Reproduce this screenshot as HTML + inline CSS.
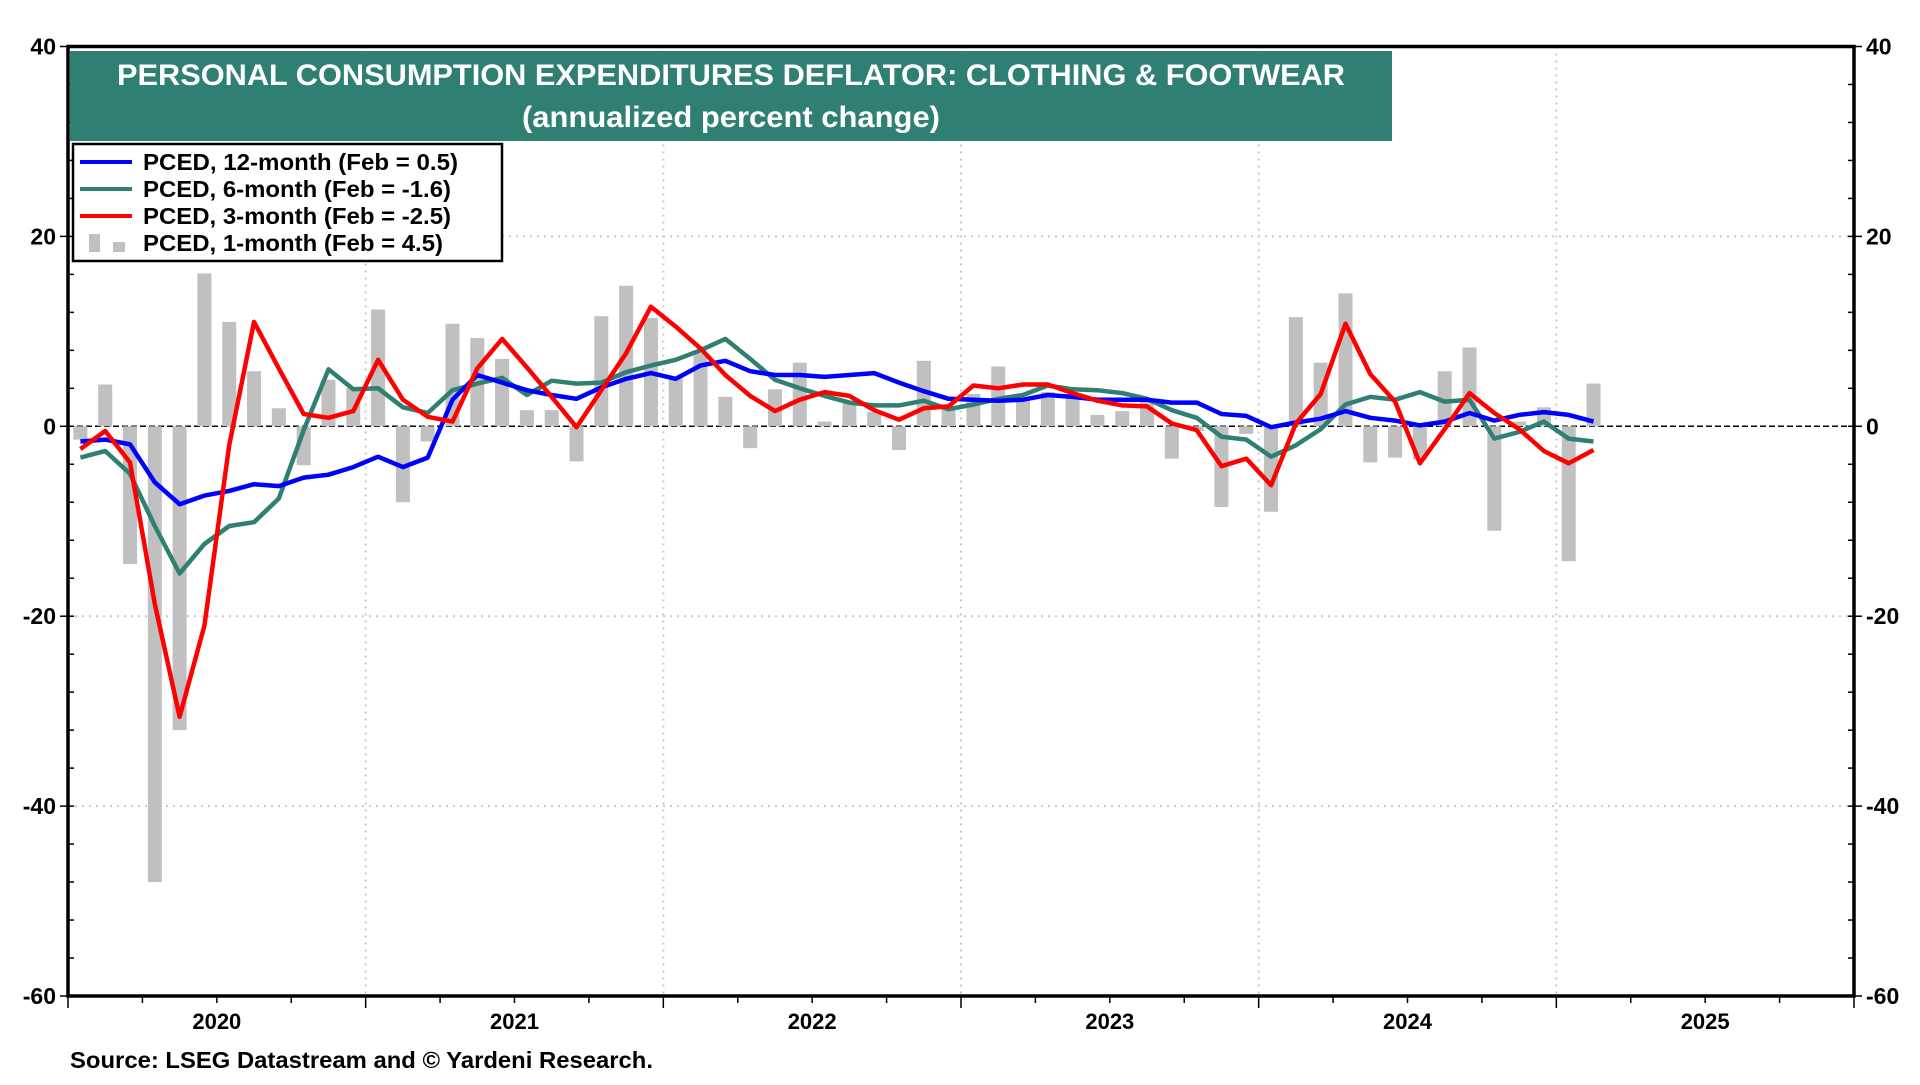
<!DOCTYPE html>
<html><head><meta charset="utf-8"><style>
body{margin:0;background:#fff;}
svg text{font-family:"Liberation Sans",Arial,sans-serif;font-weight:bold;}
</style></head><body>
<svg id="chart" width="1920" height="1080" viewBox="0 0 1920 1080" xmlns="http://www.w3.org/2000/svg">
<g id="grid"></g>
<g id="bars"></g>
<g id="lines"></g>
<g id="axes"></g>
<rect x="70" y="51" width="1322" height="90" fill="#2f7f72"/>
<text x="731" y="85" fill="#fff" font-size="30" text-anchor="middle" textLength="1228" lengthAdjust="spacingAndGlyphs">PERSONAL CONSUMPTION EXPENDITURES DEFLATOR: CLOTHING &amp; FOOTWEAR</text>
<text x="731" y="127" fill="#fff" font-size="30" text-anchor="middle" textLength="418" lengthAdjust="spacingAndGlyphs">(annualized percent change)</text>
<g>
<rect x="73" y="144" width="429" height="117" fill="#fff" stroke="#000" stroke-width="2.5"/>
<line x1="80" y1="162" x2="132" y2="162" stroke="#0000ff" stroke-width="4"/>
<text x="143" y="170" font-size="23" textLength="315" lengthAdjust="spacingAndGlyphs">PCED, 12-month (Feb = 0.5)</text>
<line x1="80" y1="189" x2="132" y2="189" stroke="#2f7f72" stroke-width="4"/>
<text x="143" y="197" font-size="23" textLength="308" lengthAdjust="spacingAndGlyphs">PCED, 6-month (Feb = -1.6)</text>
<line x1="80" y1="216" x2="132" y2="216" stroke="#ff0000" stroke-width="4"/>
<text x="143" y="224" font-size="23" textLength="308" lengthAdjust="spacingAndGlyphs">PCED, 3-month (Feb = -2.5)</text>
<rect x="89" y="234" width="11" height="18" fill="#c0c0c0"/><rect x="113" y="242" width="12" height="10" fill="#c0c0c0"/>
<text x="143" y="251" font-size="23" textLength="300" lengthAdjust="spacingAndGlyphs">PCED, 1-month (Feb = 4.5)</text>
</g>
<text x="70" y="1068" font-size="23" textLength="583" lengthAdjust="spacingAndGlyphs">Source: LSEG Datastream and © Yardeni Research.</text>
</svg>
<script>
const years = ["2020","2021","2022","2023","2024","2025"];
const yTicks = [40,20,0,-20,-40,-60];
const oneMonth = [-1.4,4.4,-14.5,-48,-32,16.1,11.0,5.8,1.9,-4.1,4.9,4.0,12.3,-8.0,-1.6,10.8,9.3,7.1,1.7,1.7,-3.7,11.6,14.8,11.4,5.2,7.7,3.1,-2.3,3.9,6.7,0.5,2.5,1.5,-2.5,6.9,2.0,3.4,6.3,2.8,3.6,3.1,1.2,1.6,2.8,-3.4,-0.5,-8.5,-0.8,-9.0,11.5,6.7,14.0,-3.8,-3.3,-3.5,5.8,8.3,-11.0,0.5,2.0,-14.2,4.5];
const twelveMonth = [-1.6,-1.4,-1.9,-5.9,-8.2,-7.3,-6.8,-6.1,-6.3,-5.4,-5.1,-4.3,-3.2,-4.3,-3.3,2.8,5.4,4.6,3.8,3.3,2.9,4.1,5.0,5.6,5.0,6.4,6.9,5.8,5.4,5.4,5.2,5.4,5.6,4.6,3.7,2.9,2.8,2.7,2.8,3.3,3.1,2.8,2.8,2.8,2.5,2.5,1.3,1.1,-0.1,0.4,0.8,1.6,0.9,0.6,0.1,0.5,1.4,0.6,1.2,1.5,1.2,0.5];
const sixMonth = [-3.3,-2.6,-5.0,-10.5,-15.5,-12.4,-10.5,-10.1,-7.6,-0.4,6.0,3.9,4.0,2.0,1.4,3.8,4.5,5.1,3.3,4.8,4.5,4.6,5.7,6.4,7.0,8.0,9.2,7.1,4.9,4.0,3.2,2.5,2.2,2.2,2.7,1.8,2.3,2.9,3.3,4.3,3.9,3.8,3.5,2.9,1.7,0.9,-1.1,-1.4,-3.2,-2.0,-0.3,2.3,3.1,2.8,3.6,2.6,2.8,-1.3,-0.6,0.5,-1.3,-1.6];
const threeMonth = [-2.4,-0.5,-3.8,-18.7,-30.6,-21,-2.0,11.0,6.1,1.3,0.9,1.6,7.0,2.8,1.0,0.5,6.1,9.2,6.2,3.1,-0.1,3.8,7.7,12.6,10.5,8.2,5.4,3.2,1.6,2.8,3.6,3.2,1.7,0.7,1.9,2.1,4.3,4.0,4.4,4.4,3.5,2.7,2.2,2.1,0.3,-0.4,-4.2,-3.4,-6.2,0.3,3.4,10.8,5.5,2.6,-3.9,-0.3,3.5,1.4,-0.3,-2.6,-3.9,-2.5];

const NS="http://www.w3.org/2000/svg";
const L=68,R=1854,T=46.5,B=996,monthW=(R-L)/72;
const yv=v=>T+(40-v)*(B-T)/100;
const xm=i=>L+monthW*(i+0.5);
function mk(tag,attrs,parent){const e=document.createElementNS(NS,tag);for(const k in attrs)e.setAttribute(k,attrs[k]);parent.appendChild(e);return e;}
const grid=document.getElementById('grid'),bars=document.getElementById('bars'),lines=document.getElementById('lines'),axes=document.getElementById('axes');
yTicks.forEach(v=>{if(v!==40&&v!==-60&&v!==0){const g=mk('line',{x1:L,x2:R,y1:yv(v),y2:yv(v),stroke:'#c8c8c8','stroke-width':2,'stroke-dasharray':'2,5'},grid);

}});
for(let y=1;y<6;y++){const g=mk('line',{x1:L+y*12*monthW,x2:L+y*12*monthW,y1:T,y2:B,stroke:'#c8c8c8','stroke-width':2,'stroke-dasharray':'2,5'},grid);

}
const z=mk('line',{x1:L,x2:R,y1:yv(0),y2:yv(0),stroke:'#000','stroke-width':1.5,'stroke-dasharray':'6,3'},grid);


oneMonth.forEach((v,i)=>{const y0=yv(0),y1=yv(v);const b=mk('rect',{x:xm(i)-7,y:Math.min(y0,y1),width:14,height:Math.abs(y1-y0),fill:'#c0c0c0'},bars);

});
[[sixMonth,'#2f7f72','line-6-month'],[twelveMonth,'#0000ff','line-12-month'],[threeMonth,'#ff0000','line-3-month']].forEach(([d,c,n])=>{
const p=mk('polyline',{points:d.map((v,i)=>xm(i).toFixed(1)+','+yv(v).toFixed(1)).join(' '),fill:'none',stroke:c,'stroke-width':4.5,'stroke-linejoin':'round'},lines);

});
const fr=mk('rect',{x:L,y:T,width:R-L,height:B-T,fill:'none',stroke:'#000','stroke-width':3.5},axes);


for(let v=-60;v<=40;v+=4){mk('line',{x1:L,x2:L+6,y1:yv(v),y2:yv(v),stroke:'#000','stroke-width':1.5},axes);mk('line',{x1:R-6,x2:R,y1:yv(v),y2:yv(v),stroke:'#000','stroke-width':1.5},axes);}
for(let q=0;q<=24;q++){mk('line',{x1:L+q*3*monthW,x2:L+q*3*monthW,y1:B,y2:B+(q%4===0?12:7),stroke:'#000','stroke-width':1.5},axes);}
yTicks.forEach(v=>{
const a=mk('text',{x:L-12,y:yv(v)+8,'font-size':23,'text-anchor':'end'},axes);a.textContent=v;


const b=mk('text',{x:R+12,y:yv(v)+8,'font-size':23},axes);b.textContent=v;


mk('line',{x1:L-8,x2:L,y1:yv(v),y2:yv(v),stroke:'#000','stroke-width':1.5},axes);mk('line',{x1:R,x2:R+8,y1:yv(v),y2:yv(v),stroke:'#000','stroke-width':1.5},axes);});
years.forEach((y,k)=>{const t=mk('text',{x:L+(k*12+6)*monthW,y:1029,'font-size':22,'text-anchor':'middle'},axes);t.textContent=y;

});
</script>
</body></html>
